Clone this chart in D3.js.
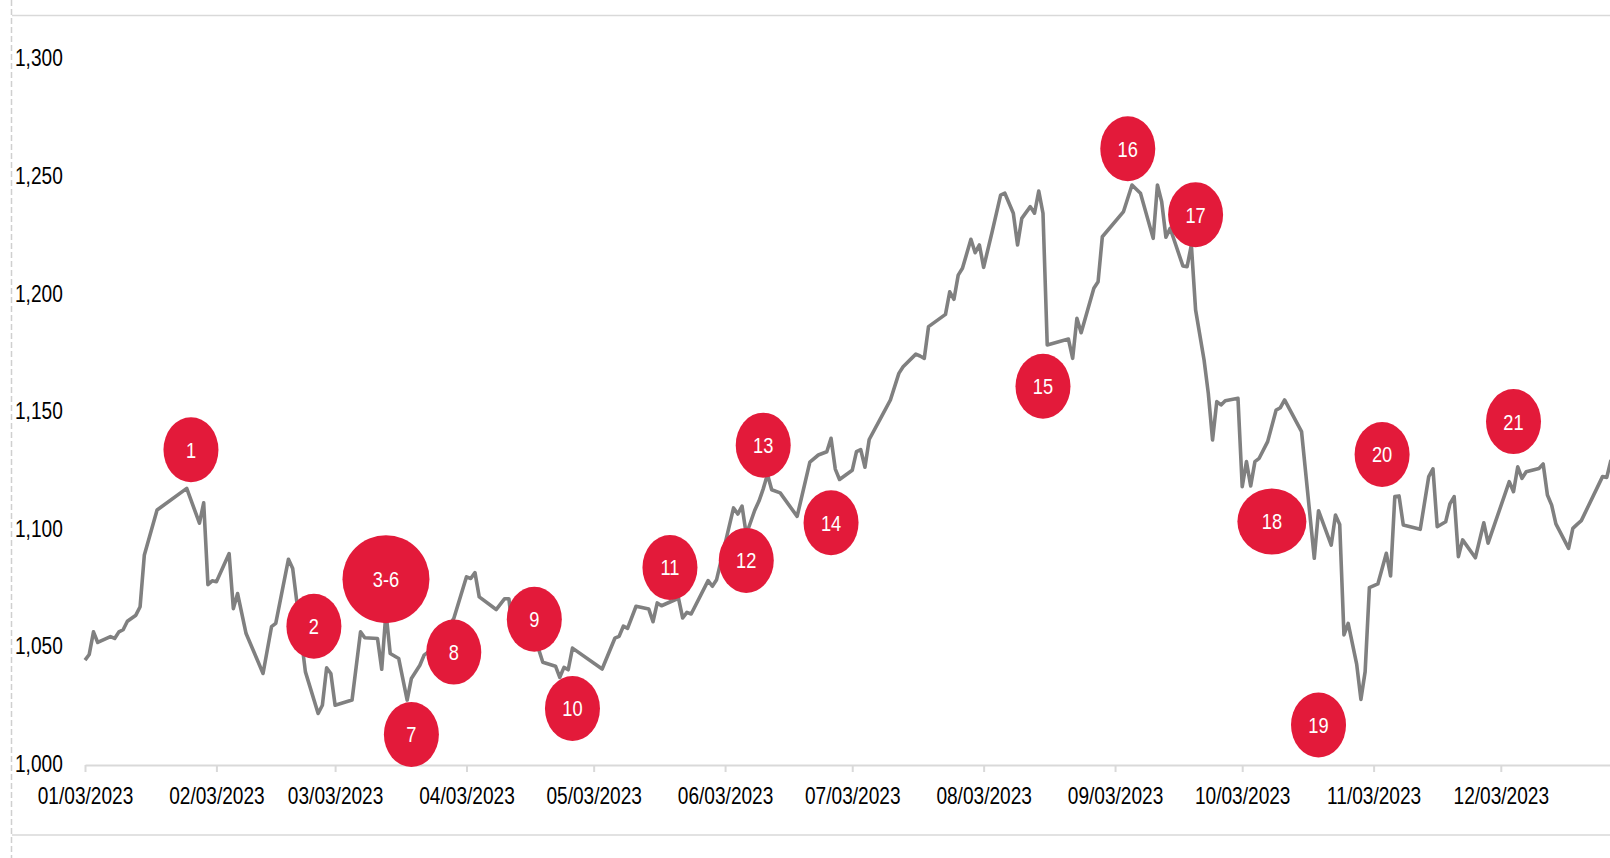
<!DOCTYPE html>
<html>
<head>
<meta charset="utf-8">
<script src="https://cdn.jsdelivr.net/npm/d3@7"></script>
<style>
  html, body { margin: 0; padding: 0; background: #ffffff; }
  svg { display: block; }
  text { font-family: "Liberation Sans", Arial, sans-serif; }
</style>
</head>
<body>
<svg id="chart" width="1610" height="858"></svg>
<script>
// Index level, 2023 trading sessions
const dates = [
  "2023-01-03","2023-01-04","2023-01-05","2023-01-06","2023-01-09","2023-01-10","2023-01-11","2023-01-12","2023-01-13","2023-01-15","2023-01-16","2023-01-17","2023-01-20","2023-01-27","2023-01-30","2023-01-31",
  "2023-02-01","2023-02-02","2023-02-03","2023-02-06","2023-02-07","2023-02-08","2023-02-10","2023-02-14","2023-02-16","2023-02-17","2023-02-20","2023-02-21","2023-02-24","2023-02-27","2023-02-28",
  "2023-03-01","2023-03-02","2023-03-03","2023-03-07","2023-03-09","2023-03-10","2023-03-13","2023-03-14","2023-03-15","2023-03-16","2023-03-18","2023-03-20","2023-03-21","2023-03-23","2023-03-24","2023-03-26","2023-03-31",
  "2023-04-03","2023-04-04","2023-04-05","2023-04-06","2023-04-10","2023-04-12","2023-04-13","2023-04-14","2023-04-16","2023-04-20","2023-04-21","2023-04-24","2023-04-25","2023-04-26","2023-04-27","2023-04-28",
  "2023-05-05","2023-05-08","2023-05-09","2023-05-10","2023-05-11","2023-05-13","2023-05-16","2023-05-17","2023-05-18","2023-05-19","2023-05-23","2023-05-24","2023-05-25","2023-05-26","2023-05-30","2023-05-31",
  "2023-06-01","2023-06-05","2023-06-06","2023-06-07","2023-06-08","2023-06-10","2023-06-11","2023-06-12","2023-06-13","2023-06-14","2023-06-16","2023-06-20","2023-06-23","2023-06-25","2023-06-27","2023-06-28","2023-06-29","2023-06-30",
  "2023-07-03","2023-07-04","2023-07-05","2023-07-06","2023-07-07","2023-07-10","2023-07-12","2023-07-14","2023-07-15","2023-07-18","2023-07-19","2023-07-20","2023-07-21","2023-07-25","2023-07-26","2023-07-27","2023-07-28","2023-07-29","2023-07-31",
  "2023-08-01","2023-08-02","2023-08-03","2023-08-05","2023-08-07","2023-08-08","2023-08-10","2023-08-11","2023-08-12","2023-08-14","2023-08-15","2023-08-16","2023-08-17","2023-08-18","2023-08-23","2023-08-24","2023-08-25","2023-08-26","2023-08-29","2023-08-30","2023-08-31",
  "2023-09-05","2023-09-07","2023-09-09","2023-09-12","2023-09-13","2023-09-14","2023-09-15","2023-09-16","2023-09-19","2023-09-20","2023-09-21","2023-09-22","2023-09-24","2023-09-25","2023-09-26","2023-09-27","2023-09-28","2023-09-29",
  "2023-10-02","2023-10-03","2023-10-04","2023-10-05","2023-10-06","2023-10-07","2023-10-09","2023-10-11","2023-10-12","2023-10-13","2023-10-17","2023-10-20","2023-10-21","2023-10-24","2023-10-25","2023-10-26","2023-10-27","2023-10-28","2023-10-30","2023-10-31",
  "2023-11-01","2023-11-02","2023-11-04","2023-11-06","2023-11-07","2023-11-08","2023-11-09","2023-11-10","2023-11-14","2023-11-16","2023-11-17","2023-11-18","2023-11-20","2023-11-21","2023-11-22","2023-11-23","2023-11-24","2023-11-27","2023-11-29","2023-11-30",
  "2023-12-05","2023-12-06","2023-12-07","2023-12-08","2023-12-09","2023-12-12","2023-12-13","2023-12-14","2023-12-15","2023-12-16","2023-12-19","2023-12-20","2023-12-21","2023-12-22","2023-12-27","2023-12-28","2023-12-29"
];

const values = [
  1044.6,1047.0,1056.6,1052.1,1054.6,1053.8,1056.6,1057.5,1061.1,1063.7,1067.3,1089.3,1108.4,1117.6,1102.8,1111.5,
  1076.7,1078.3,1077.9,1089.9,1066.5,1072.9,1055.9,1038.9,1058.8,1060.2,1087.5,1083.5,1039.6,1021.9,1025.4,
  1041.3,1038.9,1025.4,1027.6,1056.6,1054.1,1053.8,1040.7,1065.0,1047.4,1045.3,1027.6,1036.8,1042.4,1046.7,1049.5,1062.3,
  1080.0,1079.3,1081.8,1071.5,1066.1,1070.7,1070.7,1055.3,1053.1,1049.3,1043.7,1042.0,1037.3,1041.5,1040.5,1049.7,
  1040.8,1053.9,1054.7,1059.0,1058.1,1067.5,1066.3,1060.9,1068.9,1067.7,1070.9,1062.5,1064.9,1064.2,1078.4,1076.0,
  1078.8,1109.3,1106.7,1110.1,1098.0,1108.3,1112.2,1117.4,1123.6,1117.0,1115.7,1105.7,1128.8,1131.8,1133.2,1138.9,1125.8,1121.4,
  1125.3,1133.2,1134.1,1126.6,1138.4,1148.4,1155.2,1166.5,1169.3,1174.7,1173.9,1172.9,1186.4,1191.6,1201.2,1198.0,1208.3,1211.2,1223.5,
  1217.8,1221.1,1211.6,1226.7,1242.3,1243.1,1234.6,1221.1,1232.4,1237.4,1234.6,1244.0,1234.6,1178.6,1181.1,1172.9,1189.9,1183.8,1202.7,1205.5,1224.6,
  1235.3,1246.6,1243.1,1223.9,1246.6,1239.5,1224.4,1228.2,1212.2,1211.9,1221.1,1193.5,1172.2,1158.0,1138.2,1154.5,1153.1,1154.9,
  1155.9,1118.3,1129.0,1118.6,1129.0,1130.4,1137.5,1150.9,1151.9,1155.2,1141.7,1087.9,1108.1,1093.5,1106.3,1102.3,1055.3,1060.2,1042.9,1027.9,
  1039.7,1075.4,1077.0,1090.0,1080.4,1114.1,1114.4,1102.0,1100.2,1122.6,1125.9,1101.3,1103.4,1111.0,1114.1,1088.6,1095.7,1088.1,1103.0,1094.3,
  1120.5,1116.2,1126.8,1121.9,1124.7,1126.1,1128.0,1114.8,1110.5,1102.5,1092.1,1100.6,1102.3,1103.9,1122.6,1122.3,1129.7
];

// Numbered event markers
const eventLabels = ["1","2","3-6","7","8","9","10","11","12","13","14","15","16","17","18","19","20","21"];
const eventDates = ["2023-01-28","2023-02-26","2023-03-15","2023-03-21","2023-03-31","2023-04-19","2023-04-28","2023-05-21","2023-06-08","2023-06-12","2023-06-28","2023-08-17","2023-09-06","2023-09-22","2023-10-10","2023-10-21","2023-11-05","2023-12-06"];
const eventValues = [1134,1059,1079,1013,1048,1062,1024,1084,1087,1136,1103,1161,1262,1234,1103.5,1017,1132,1146];

// Axis ticks
const yTickValues = [1000,1050,1100,1150,1200,1250,1300];
const xTickDates = ["2023-01-03","2023-02-03","2023-03-03","2023-04-03","2023-05-03","2023-06-03","2023-07-03","2023-08-03","2023-09-03","2023-10-03","2023-11-03","2023-12-03"];
const xDomain = ["2023-01-03","2023-12-29"];

const W = 1610, H = 858;
const narrow = "scale(0.83,1)";   // condensed look for all labels
const parse = d3.timeParse("%Y-%m-%d");
const svg = d3.select("#chart");

const x = d3.scaleTime().domain(xDomain.map(parse)).range([85, 1611]);
const y = d3.scaleLinear().domain([1000, 1300]).range([765, 59.4]);

const frameColor = "#d9d9d9";

// frame: dashed left rule, top and bottom rules
svg.append("line")
  .attr("x1", 11.5).attr("x2", 11.5).attr("y1", 0).attr("y2", H)
  .attr("stroke", "#cfcfcf").attr("stroke-width", 1.5)
  .attr("stroke-dasharray", "6,3");
svg.append("line")
  .attr("x1", 12).attr("x2", W).attr("y1", 15.5).attr("y2", 15.5)
  .attr("stroke", frameColor).attr("stroke-width", 1.5);
svg.append("line")
  .attr("x1", 12).attr("x2", W).attr("y1", 835).attr("y2", 835)
  .attr("stroke", frameColor).attr("stroke-width", 1.5);

// x axis
const xAxis = svg.append("g")
  .attr("transform", `translate(0,${y(1000)})`)
  .call(d3.axisBottom(x)
    .tickValues(xTickDates.map(parse))
    .tickFormat(d3.timeFormat("%m/%d/%Y"))
    .tickSizeInner(7).tickSizeOuter(0).tickPadding(16));
xAxis.select(".domain").attr("stroke", frameColor).attr("stroke-width", 2);
xAxis.selectAll(".tick line").attr("stroke", frameColor).attr("stroke-width", 2);
xAxis.selectAll(".tick text")
  .attr("fill", "#000").attr("transform", narrow)
  .style("font-size", "23px")
  .style("font-family", "'Liberation Sans', Arial, sans-serif");

// y axis labels (no axis line)
const yAxis = svg.append("g")
  .attr("transform", "translate(15,0)")
  .call(d3.axisRight(y)
    .tickValues(yTickValues)
    .tickFormat(d3.format(","))
    .tickSize(0).tickPadding(0));
yAxis.select(".domain").remove();
yAxis.selectAll(".tick text")
  .attr("fill", "#000").attr("dy", "0.28em").attr("transform", narrow)
  .style("font-size", "23px")
  .style("font-family", "'Liberation Sans', Arial, sans-serif");

// index line
const series = dates.map((d, i) => ({ date: parse(d), value: values[i] }));
const line = d3.line().x(d => x(d.date)).y(d => y(d.value));
svg.append("path")
  .datum(series)
  .attr("d", line)
  .attr("fill", "none")
  .attr("stroke", "#808080")
  .attr("stroke-width", 3.6)
  .attr("stroke-linejoin", "round");

// event bubbles
const events = eventLabels.map((label, i) => ({ label, date: parse(eventDates[i]), value: eventValues[i] }));
const radius = label => label === "3-6" ? [43.5, 44] : (label === "18" ? [34.5, 33] : [27.5, 32.5]);
const ev = svg.append("g").selectAll("g").data(events).join("g")
  .attr("transform", d => `translate(${x(d.date)},${y(d.value)})`);
ev.append("ellipse")
  .attr("rx", d => radius(d.label)[0])
  .attr("ry", d => radius(d.label)[1])
  .attr("fill", "#E31A3A");
ev.append("text")
  .attr("text-anchor", "middle")
  .attr("dy", "0.36em")
  .attr("transform", narrow)
  .attr("fill", "#ffffff")
  .style("font-size", "22px")
  .text(d => d.label);
</script>
</body>
</html>
